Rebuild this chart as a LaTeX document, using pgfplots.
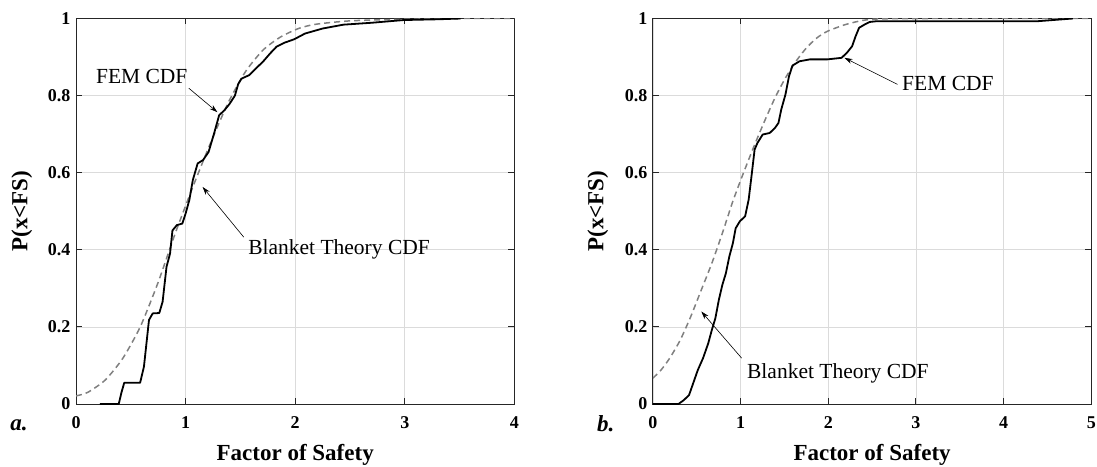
\documentclass[border=0pt]{standalone}
\usepackage{pgfplots}
\pgfplotsset{compat=1.18}
\usetikzlibrary{arrows.meta}
\usepackage{fontspec}
\setmainfont{Liberation Serif}

\definecolor{gridgray}{gray}{0.86}
\definecolor{theorygray}{gray}{0.5}
\definecolor{axisdark}{gray}{0.15}

\pgfplotsset{
  cdfaxis/.style={
    scale only axis,
    width=438.4pt, height=385.5pt,
    ymin=0, ymax=1,
    ytick={0,0.2,...,1},
    xmajorgrids, ymajorgrids,
    major grid style={gridgray, line width=0.8pt},
    tick align=inside,
    major tick length=6pt,
    axis line style={axisdark, line width=0.9pt},
    every tick/.style={axisdark, line width=0.9pt},
    /pgf/number format/assume math mode=true,
    tick label style={font=\fontsize{18}{18}\selectfont\bfseries},
    xticklabel style={yshift=-9pt},
    yticklabel style={xshift=-2pt},
    xlabel={Factor of Safety},
    ylabel={P(x<FS)},
    label style={font=\fontsize{23}{23}\selectfont\bfseries},
    xlabel style={at={(axis description cs:0.5,-0.132)}, anchor=center},
  },
}
\tikzset{
  fem/.style={black, line width=1.8pt, line join=round},
  theory/.style={theorygray, line width=1.5pt, dash pattern=on 6pt off 4pt, smooth, tension=0.4},
  note/.style={font=\fontsize{21.5}{21.5}\selectfont},
  pointer/.style={-{Stealth[length=8pt,width=5pt]}, line width=0.6pt},
}

\begin{document}
\begin{tikzpicture}
\useasboundingbox (0,0) rectangle (1097pt,466pt);

% panel a
\begin{axis}[cdfaxis, at={(76pt,62pt)}, anchor=south west,
  xmin=0, xmax=4, xtick={0,1,2,3,4},
  ylabel style={at={(axis description cs:-0.1234,0.5)}, anchor=center}]
\addplot[theory] coordinates {
  (0,0.021)(0.106,0.030)(0.266,0.062)(0.426,0.118)(0.586,0.200)(0.746,0.313)
  (0.906,0.443)(1.066,0.563)(1.226,0.676)(1.386,0.780)(1.546,0.862)(1.706,0.918)
  (1.866,0.952)(2.03,0.974)(2.186,0.985)(2.506,0.994)(2.986,0.998)(3.5,1.0)(4,1.0)
};
\addplot[fem] coordinates {
  (0.218,0)(0.39,0)(0.415,0.03)(0.44,0.055)(0.585,0.055)(0.62,0.097)(0.666,0.218)
  (0.70,0.235)(0.76,0.236)(0.79,0.265)(0.826,0.356)(0.858,0.39)(0.88,0.45)
  (0.92,0.464)(0.97,0.468)(1.0,0.494)(1.034,0.529)(1.066,0.581)(1.11,0.624)
  (1.16,0.633)(1.21,0.654)(1.258,0.70)(1.306,0.749)(1.354,0.762)(1.40,0.778)
  (1.45,0.80)(1.48,0.83)(1.51,0.844)(1.58,0.853)(1.64,0.87)(1.706,0.888)
  (1.77,0.909)(1.83,0.927)(1.90,0.937)(1.99,0.946)(2.09,0.961)(2.25,0.974)
  (2.44,0.984)(2.70,0.989)(2.99,0.996)(3.31,0.998)(3.51,1.0)
};
\node[note] at (axis cs:0.60,0.85) {FEM CDF};
\draw[pointer] (axis cs:1.03,0.819) -- (axis cs:1.29,0.757);
\node[note] at (axis cs:2.40,0.40) {Blanket Theory CDF};
\draw[pointer] (axis cs:1.53,0.433) -- (axis cs:1.155,0.563);
\end{axis}

% panel b
\begin{axis}[cdfaxis, at={(652.9pt,62pt)}, anchor=south west,
  xmin=0, xmax=5, xtick={0,1,2,3,4,5},
  ylabel style={at={(axis description cs:-0.1255,0.5)}, anchor=center}]
\addplot[theory] coordinates {
  (0,0.067)(0.092,0.088)(0.192,0.119)(0.312,0.166)(0.432,0.227)(0.552,0.296)
  (0.672,0.365)(0.792,0.443)(0.912,0.526)(1.032,0.599)(1.152,0.668)(1.272,0.733)
  (1.392,0.794)(1.512,0.846)(1.632,0.889)(1.752,0.924)(1.872,0.950)(1.992,0.967)
  (2.192,0.984)(2.392,0.995)(2.592,0.999)(3.2,1.0)(5,1.0)
};
\addplot[fem] coordinates {
  (0,0)(0.292,0)(0.352,0.010)(0.412,0.023)(0.452,0.049)(0.512,0.088)(0.572,0.119)
  (0.632,0.158)(0.672,0.192)(0.712,0.222)(0.752,0.27)(0.792,0.309)(0.832,0.339)
  (0.872,0.383)(0.912,0.417)(0.944,0.456)(0.992,0.474)(1.052,0.487)(1.092,0.53)
  (1.124,0.59)(1.16,0.66)(1.192,0.677)(1.252,0.699)(1.332,0.703)(1.392,0.716)
  (1.432,0.729)(1.464,0.764)(1.512,0.803)(1.552,0.85)(1.592,0.878)(1.672,0.889)
  (1.792,0.894)(1.992,0.894)(2.152,0.898)(2.212,0.911)(2.272,0.928)(2.312,0.954)
  (2.352,0.976)(2.412,0.984)(2.472,0.991)(2.552,0.993)(3.19,0.993)(4.39,0.993)
  (4.79,1.0)
};
\node[note] at (axis cs:3.365,0.831) {FEM CDF};
\draw[pointer] (axis cs:2.79,0.829) -- (axis cs:2.185,0.898);
\node[note] at (axis cs:2.11,0.08) {Blanket Theory CDF};
\draw[pointer] (axis cs:1.012,0.119) -- (axis cs:0.552,0.24);
\end{axis}

\node[font=\fontsize{23}{23}\selectfont\bfseries\itshape] at (19pt,41pt) {a.};
\node[font=\fontsize{23}{23}\selectfont\bfseries\itshape] at (605.7pt,42pt) {b.};
\end{tikzpicture}
\end{document}
